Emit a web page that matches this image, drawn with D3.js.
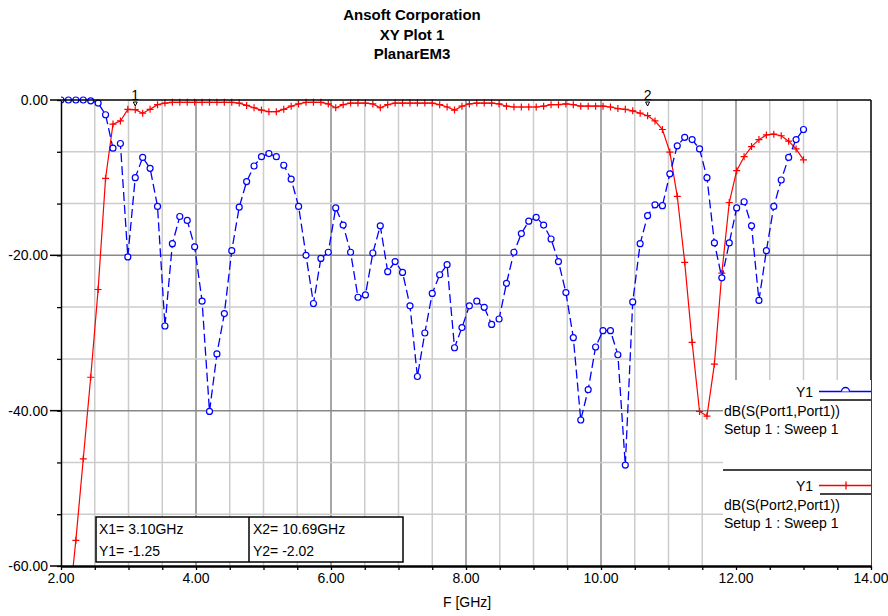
<!DOCTYPE html>
<html>
<head>
<meta charset="utf-8">
<script src="https://cdn.jsdelivr.net/npm/d3@7"></script>
<style>
  body { margin: 0; background: #fff; }
  svg { display: block; font-family: "Liberation Sans", Arial, sans-serif; }
</style>
</head>
<body>
<svg id="chart" width="888" height="616"></svg>
<script>
// sweep frequencies (GHz)
var freqGHz = [
  2.00, 2.11, 2.22, 2.33, 2.44, 2.55, 2.66, 2.77, 2.88, 2.99,
  3.10, 3.21, 3.32, 3.43, 3.54, 3.65, 3.76, 3.87, 3.98, 4.09,
  4.20, 4.31, 4.42, 4.53, 4.64, 4.75, 4.86, 4.97, 5.08, 5.19,
  5.30, 5.41, 5.52, 5.63, 5.74, 5.85, 5.96, 6.07, 6.18, 6.29,
  6.40, 6.51, 6.62, 6.73, 6.84, 6.95, 7.06, 7.17, 7.28, 7.39,
  7.50, 7.61, 7.72, 7.83, 7.94, 8.05, 8.16, 8.27, 8.38, 8.49,
  8.60, 8.71, 8.82, 8.93, 9.04, 9.15, 9.26, 9.37, 9.48, 9.59,
  9.70, 9.81, 9.92, 10.03, 10.14, 10.25, 10.36, 10.47, 10.58, 10.69,
  10.80, 10.91, 11.02, 11.13, 11.24, 11.35, 11.46, 11.57, 11.68, 11.79,
  11.90, 12.01, 12.12, 12.23, 12.34, 12.45, 12.56, 12.67, 12.78, 12.89,
  13.00
];

// dB(S(Port1,Port1))
var s11 = [
  0, 0, 0, 0, -0.1, -0.4, -1.9, -6.2, -5.6, -20.2,
  -10.0, -7.4, -8.8, -13.7, -29.1, -18.5, -15.0, -15.5, -18.9, -25.9,
  -40.1, -32.7, -27.5, -19.4, -13.8, -10.5, -8.5, -7.3, -6.9, -7.3,
  -8.4, -10.2, -13.7, -20.0, -26.2, -20.4, -19.6, -13.9, -16.1, -19.6,
  -25.4, -25.1, -19.7, -16.2, -22.1, -20.8, -22.2, -26.5, -35.6, -30.0,
  -24.9, -22.5, -21.2, -31.9, -29.3, -26.5, -25.9, -26.7, -28.9, -28.2,
  -23.6, -19.6, -17.2, -15.6, -15.1, -16.1, -17.9, -20.8, -24.8, -30.6,
  -41.2, -37.3, -31.8, -29.7, -29.7, -32.8, -47.0, -26.0, -18.5, -14.9,
  -13.5, -13.6, -9.5, -5.9, -4.8, -5.1, -6.3, -10.0, -18.4, -22.9,
  -18.4, -13.9, -13.1, -16.2, -25.8, -19.4, -13.7, -10.3, -7.4, -5.1,
  -3.8
];

// dB(S(Port2,Port1))
var s21 = [
  -78, -66, -56.7, -46.2, -35.7, -24.4, -10.1, -3.1, -2.7, -1.2,
  -1.25, -1.7, -1.2, -0.6, -0.4, -0.3, -0.3, -0.3, -0.3, -0.3,
  -0.3, -0.3, -0.3, -0.3, -0.4, -0.7, -1.0, -1.3, -1.5, -1.5,
  -1.2, -0.8, -0.5, -0.3, -0.3, -0.3, -0.5, -1.0, -0.6, -0.4,
  -0.4, -0.4, -0.5, -1.0, -0.6, -0.4, -0.4, -0.4, -0.4, -0.4,
  -0.4, -0.6, -0.9, -1.3, -0.8, -0.5, -0.4, -0.4, -0.4, -0.5,
  -0.8, -0.9, -0.9, -0.9, -0.9, -0.8, -0.6, -0.6, -0.5, -0.6,
  -0.8, -0.8, -0.8, -0.8, -0.9, -1.1, -1.2, -1.4, -1.7, -2.02,
  -2.7, -3.8, -6.7, -12.4, -20.9, -31.2, -40.1, -40.7, -34.0, -22.3,
  -13.2, -9.1, -7.3, -6.0, -5.1, -4.5, -4.4, -4.6, -5.3, -6.3,
  -7.7
];

var titleLines = ["Ansoft Corporation", "XY Plot 1", "PlanarEM3"];
var xTickLabels = ["2.00", "4.00", "6.00", "8.00", "10.00", "12.00", "14.00"];
var yTickLabels = ["0.00", "-20.00", "-40.00", "-60.00"];
var markerNames = ["1", "2"];
var markerFreq = [3.10, 10.69];
var markerVal = [-1.25, -2.02];
var legendNames = ["dB(S(Port1,Port1))", "dB(S(Port2,Port1))"];

var width = 888, height = 616;
var plotL = 61, plotR = 871, plotT = 100, plotB = 566;

var svg = d3.select("#chart");

var x = d3.scaleLinear().domain([2, 14]).range([plotL, plotR]);
var y = d3.scaleLinear().domain([-60, 0]).range([plotB, plotT]);

// title
svg.append("g").selectAll("text")
  .data(titleLines)
  .join("text")
    .attr("x", 412)
    .attr("y", (d, i) => 20 + i * 19.5)
    .attr("text-anchor", "middle")
    .style("font-size", "15px")
    .style("font-weight", "bold")
    .text(d => d);

// grid
var xGrid = d3.range(2.5, 14, 0.5);
var yGrid = d3.range(1, 9).map(i => -60 + i * 20 / 3);

svg.append("g").selectAll("line")
  .data(xGrid)
  .join("line")
    .attr("x1", d => x(d)).attr("x2", d => x(d))
    .attr("y1", plotT).attr("y2", plotB)
    .attr("stroke", d => d % 2 === 0 ? "#888" : "#cccccc")
    .attr("stroke-width", 1.5);

svg.append("g").selectAll("line")
  .data(yGrid)
  .join("line")
    .attr("x1", plotL).attr("x2", plotR)
    .attr("y1", d => y(d)).attr("y2", d => y(d))
    .attr("stroke", d => Math.abs(d % 20) < 0.01 ? "#888" : "#cccccc")
    .attr("stroke-width", 1.5);

// curves
svg.append("clipPath").attr("id", "clip")
  .append("rect").attr("x", plotL).attr("y", plotT - 6).attr("width", plotR - plotL).attr("height", plotB - plotT + 6);

var plot = svg.append("g").attr("clip-path", "url(#clip)");

var s11Data = freqGHz.map((f, i) => ({ f: f, v: s11[i] }));
var s21Data = freqGHz.map((f, i) => ({ f: f, v: s21[i] }));

var line = d3.line().x(d => x(d.f)).y(d => y(d.v));

plot.append("path")
  .datum(s21Data)
  .attr("fill", "none")
  .attr("stroke", "#ff0000")
  .attr("stroke-width", 1.2)
  .attr("d", line);

plot.append("g").selectAll("path")
  .data(s21Data)
  .join("path")
    .attr("d", d => "M" + (x(d.f) - 3.5) + "," + y(d.v) + "h7M" + x(d.f) + "," + (y(d.v) - 3.5) + "v7")
    .attr("stroke", "#ff0000")
    .attr("stroke-width", 1.2);

plot.append("path")
  .datum(s11Data)
  .attr("fill", "none")
  .attr("stroke", "#0000ff")
  .attr("stroke-width", 1.3)
  .attr("stroke-dasharray", "9,4")
  .attr("d", line);

plot.append("g").selectAll("circle")
  .data(s11Data)
  .join("circle")
    .attr("cx", d => x(d.f))
    .attr("cy", d => y(d.v))
    .attr("r", 3)
    .attr("fill", "#fff")
    .attr("stroke", "#0000ff")
    .attr("stroke-width", 1.2);

// frame
svg.append("line").attr("x1", plotL).attr("x2", plotR).attr("y1", plotT).attr("y2", plotT)
  .attr("stroke", "#000").attr("stroke-width", 1.5);
svg.append("line").attr("x1", plotR).attr("x2", plotR).attr("y1", plotT).attr("y2", plotB)
  .attr("stroke", "#000").attr("stroke-width", 1.5);

// legend
var lg = svg.append("g");
lg.append("rect").attr("x", 723).attr("y", 380).attr("width", plotR - 723).attr("height", plotB - 380)
  .attr("fill", "#fff");
lg.append("line").attr("x1", 723).attr("x2", plotR).attr("y1", 470).attr("y2", 470)
  .attr("stroke", "#444").attr("stroke-width", 2);

legendNames.forEach(function(name, i) {
  var y0 = 391.5 + i * 94;
  var col = i === 0 ? "#0000ff" : "#ff0000";
  lg.append("text").attr("x", 813).attr("y", y0 + 5).attr("text-anchor", "end")
    .style("font-size", "14px").text("Y1");
  lg.append("line").attr("x1", 819).attr("x2", plotR).attr("y1", y0).attr("y2", y0)
    .attr("stroke", col).attr("stroke-width", 1.3);
  lg.append("line").attr("x1", 820).attr("x2", plotR).attr("y1", y0 + 8.5).attr("y2", y0 + 8.5)
    .attr("stroke", "#444").attr("stroke-width", 2);
  if (i === 0) {
    lg.append("path").attr("d", "M841.5," + y0 + "A4,4 0 0 1 849.5," + y0)
      .attr("fill", "#fff").attr("stroke", col).attr("stroke-width", 1.3);
  } else {
    lg.append("line").attr("x1", 846).attr("x2", 846).attr("y1", y0 - 4).attr("y2", y0 + 4)
      .attr("stroke", col).attr("stroke-width", 1.3);
  }
  lg.append("text").attr("x", 724).attr("y", y0 + 24).style("font-size", "14px").text(name);
  lg.append("text").attr("x", 724).attr("y", y0 + 42.5).style("font-size", "14px").text("Setup 1 : Sweep 1");
});

// marker readout box
var mb = svg.append("g");
mb.append("rect").attr("x", 96).attr("y", 517).attr("width", 307).attr("height", 45)
  .attr("fill", "#fff").attr("stroke", "#000").attr("stroke-width", 1.5);
mb.append("line").attr("x1", 249).attr("x2", 249).attr("y1", 517).attr("y2", 562)
  .attr("stroke", "#000").attr("stroke-width", 1.5);
markerNames.forEach(function(m, i) {
  var x0 = i === 0 ? 99 : 253;
  mb.append("text").attr("x", x0).attr("y", 534).style("font-size", "14px")
    .text("X" + m + "= " + markerFreq[i].toFixed(2) + "GHz");
  mb.append("text").attr("x", x0).attr("y", 556).style("font-size", "14px")
    .text("Y" + m + "= " + markerVal[i].toFixed(2));
});

// marker labels on top
markerNames.forEach(function(m, i) {
  var mx = x(markerFreq[i]);
  svg.append("text").attr("x", mx).attr("y", 100).attr("text-anchor", "middle")
    .style("font-size", "14px").text(m);
  svg.append("path").attr("d", "M" + (mx - 2) + ",102L" + (mx + 2) + ",102L" + mx + ",106Z")
    .attr("fill", "none").attr("stroke", "#000").attr("stroke-width", 1);
});

// axes
var xAxis = d3.axisBottom(x)
  .tickValues(d3.range(2, 14.01, 0.5))
  .tickSize(4)
  .tickFormat("")
  .tickSizeOuter(0);

svg.append("g")
  .attr("transform", "translate(0," + plotB + ")")
  .call(xAxis)
  .call(g => g.select(".domain").attr("stroke-width", 2.5))
  .call(g => g.selectAll(".tick line").attr("stroke-width", 1.3));

svg.append("g").selectAll("text")
  .data(xTickLabels)
  .join("text")
    .attr("x", d => x(+d))
    .attr("y", 583)
    .attr("text-anchor", "middle")
    .style("font-size", "14px")
    .text(d => d);

var yAxis = d3.axisLeft(y)
  .tickValues(d3.range(0, 10).map(i => -60 + i * 20 / 3))
  .tickSize(4)
  .tickFormat("")
  .tickSizeOuter(0);

svg.append("g")
  .attr("transform", "translate(" + plotL + ",0)")
  .call(yAxis)
  .call(g => g.select(".domain").attr("stroke-width", 1.5))
  .call(g => g.selectAll(".tick line").attr("stroke-width", 1.3));

var yMajor = svg.append("g");
yMajor.selectAll("line")
  .data(yTickLabels)
  .join("line")
    .attr("x1", 50).attr("x2", plotL)
    .attr("y1", d => y(+d)).attr("y2", d => y(+d))
    .attr("stroke", "#000").attr("stroke-width", 1.5);
yMajor.selectAll("text")
  .data(yTickLabels)
  .join("text")
    .attr("x", 48)
    .attr("y", d => y(+d) + 5)
    .attr("text-anchor", "end")
    .style("font-size", "14px")
    .text(d => d);

svg.append("text")
  .attr("x", 443)
  .attr("y", 607)
  .style("font-size", "14px")
  .text("F [GHz]");
</script>
</body>
</html>
